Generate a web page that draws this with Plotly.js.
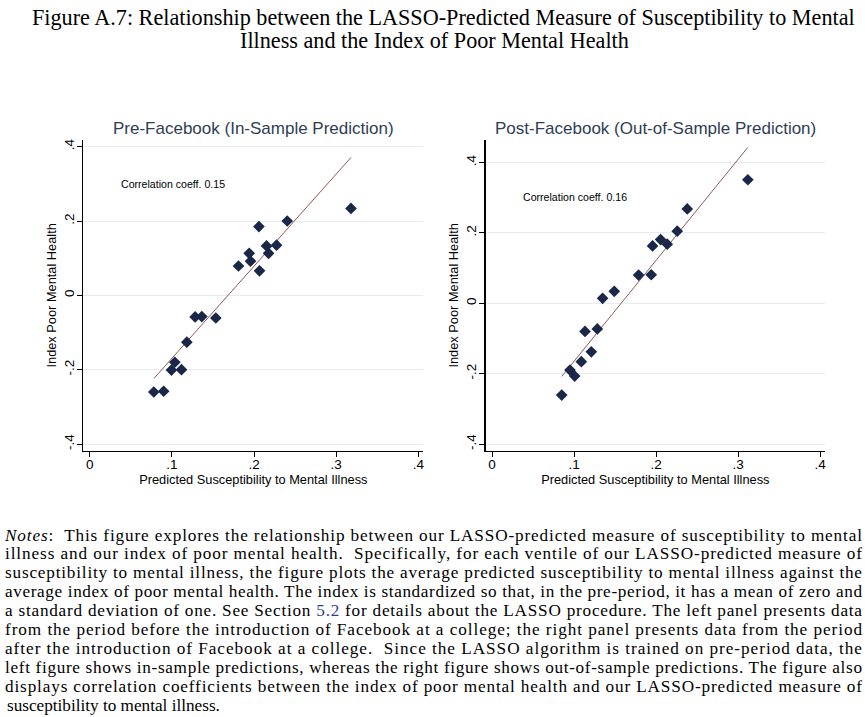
<!DOCTYPE html>
<html>
<head>
<meta charset="utf-8">
<script src="https://cdn.plot.ly/plotly-3.0.1.min.js"></script>
<style>
html,body{margin:0;padding:0;background:#fff;}
#chart{width:865px;height:717px;}
</style>
</head>
<body>
<div id="chart"></div>
<script>
// ---- Data ----
var preX = [0.078, 0.090, 0.0995, 0.1036, 0.1117, 0.1182, 0.1283, 0.1364, 0.1535, 0.1811, 0.1941, 0.1957, 0.2059, 0.2067, 0.2152, 0.2177, 0.2274, 0.2404, 0.318];
var preY = [-0.260, -0.258, -0.201, -0.180, -0.200, -0.126, -0.058, -0.057, -0.061, 0.079, 0.113, 0.092, 0.185, 0.066, 0.133, 0.113, 0.135, 0.200, 0.234];
var preFitX = [0.0784, 0.318];
var preFitY = [-0.223, 0.371];

var postX = [0.0849, 0.0950, 0.1007, 0.1088, 0.1133, 0.1210, 0.1283, 0.1348, 0.1490, 0.1787, 0.1941, 0.1957, 0.2055, 0.2136, 0.2258, 0.2380, 0.3119];
var postY = [-0.261, -0.190, -0.207, -0.166, -0.080, -0.138, -0.073, 0.014, 0.034, 0.080, 0.081, 0.163, 0.181, 0.168, 0.205, 0.268, 0.351];
var postFitX = [0.0849, 0.3119];
var postFitY = [-0.208, 0.443];

var preCorr = "Correlation coeff. 0.15";
var postCorr = "Correlation coeff. 0.16";

var xTickVals = [0, 0.1, 0.2, 0.3, 0.4];
var xTickText = ["0", ".1", ".2", ".3", ".4"];
var yTickVals = [-0.4, -0.2, 0, 0.2, 0.4];
var yTickText = ["-.4", "-.2", "0", ".2", ".4"];

var figTitle = ["Figure A.7: Relationship between the LASSO-Predicted Measure of Susceptibility to Mental",
                "Illness and the Index of Poor Mental Health"];
var panelTitles = ["Pre-Facebook (In-Sample Prediction)", "Post-Facebook (Out-of-Sample Prediction)"];
var xTitle = "Predicted Susceptibility to Mental Illness";
var yTitle = "Index Poor Mental Health";

var notes = [
 "<i>Notes</i>:  This figure explores the relationship between our LASSO-predicted measure of susceptibility to mental",
 "illness and our index of poor mental health.  Specifically, for each ventile of our LASSO-predicted measure of",
 "susceptibility to mental illness, the figure plots the average predicted susceptibility to mental illness against the",
 "average index of poor mental health. The index is standardized so that, in the pre-period, it has a mean of zero and",
 "a standard deviation of one. See Section <span style='color:#2a3f8f'>5.2</span> for details about the LASSO procedure. The left panel presents data",
 "from the period before the introduction of Facebook at a college; the right panel presents data from the period",
 "after the introduction of Facebook at a college.  Since the LASSO algorithm is trained on pre-period data, the",
 "left figure shows in-sample predictions, whereas the right figure shows out-of-sample predictions. The figure also",
 "displays correlation coefficients between the index of poor mental health and our LASSO-predicted measure of",
 "susceptibility to mental illness."
];

// ---- Styles ----
var W = 865, H = 717;
var markerColor = "#1b2748";
var lineColor = "#8c5a5e";
var titleColor = "#2f3d55";
var sans = "Liberation Sans, Arial, sans-serif";
var serif = "Liberation Serif, Times New Roman, serif";
var notesLeft = 5, notesRight = 862;

function px2x(p){ return p / W; }
function px2y(p){ return 1 - p / H; }

var traces = [
  {x: preFitX, y: preFitY, mode: "lines", line: {color: lineColor, width: 1}, xaxis: "x", yaxis: "y", hoverinfo: "skip"},
  {x: preX, y: preY, mode: "markers", marker: {symbol: "diamond", size: 9, color: markerColor}, xaxis: "x", yaxis: "y"},
  {x: postFitX, y: postFitY, mode: "lines", line: {color: lineColor, width: 1}, xaxis: "x2", yaxis: "y2", hoverinfo: "skip"},
  {x: postX, y: postY, mode: "markers", marker: {symbol: "diamond", size: 9, color: markerColor}, xaxis: "x2", yaxis: "y2"}
];

var yDom = [px2y(450.7), px2y(140)];

function xAxis(dom, anchor){
  return {
    domain: dom, range: [-0.0078, 0.406], tickvals: xTickVals, ticktext: xTickText,
    showgrid: false, zeroline: false, showline: true, linecolor: "#000", linewidth: 1.3,
    ticks: "outside", ticklen: 5, tickcolor: "#000", tickwidth: 1, ticklabelstandoff: -4,
    tickfont: {family: sans, size: 13.5, color: "#000"},
    title: {text: xTitle, font: {family: sans, size: 12.8, color: "#000"}, standoff: 2},
    anchor: anchor, fixedrange: true
  };
}
function yAxis(range, anchor){
  return {
    domain: yDom, range: range, tickvals: yTickVals, ticktext: yTickText, tickangle: -90,
    showgrid: true, gridcolor: "#e8ecee", gridwidth: 1, zeroline: false,
    showline: true, linecolor: "#000", linewidth: 1.3,
    ticks: "outside", ticklen: 5, tickcolor: "#000", tickwidth: 1, ticklabelstandoff: -2,
    tickfont: {family: sans, size: 13.5, color: "#000"},
    title: {text: yTitle, font: {family: sans, size: 12.8, color: "#000"}, standoff: 2},
    anchor: anchor, fixedrange: true
  };
}

var annotations = [];
annotations.push({xref: "paper", yref: "paper", x: px2x(444), y: px2y(17), xanchor: "center", yanchor: "middle",
  text: figTitle[0], showarrow: false, font: {family: serif, size: 22.2, color: "#000"}});
annotations.push({xref: "paper", yref: "paper", x: px2x(434), y: px2y(41), xanchor: "center", yanchor: "middle",
  text: figTitle[1], showarrow: false, font: {family: serif, size: 22.2, color: "#000"}});
annotations.push({xref: "paper", yref: "paper", x: px2x(253), y: px2y(128), xanchor: "center", yanchor: "middle",
  text: panelTitles[0], showarrow: false, font: {family: sans, size: 17, color: titleColor}});
annotations.push({xref: "paper", yref: "paper", x: px2x(655), y: px2y(128), xanchor: "center", yanchor: "middle",
  text: panelTitles[1], showarrow: false, font: {family: sans, size: 17, color: titleColor}});
annotations.push({xref: "x", yref: "y", x: 0.0357, y: 0.30, xanchor: "left", yanchor: "middle",
  text: preCorr, showarrow: false, font: {family: sans, size: 10.6, color: "#000"}});
annotations.push({xref: "x2", yref: "y2", x: 0.0357, y: 0.301, xanchor: "left", yanchor: "middle",
  text: postCorr, showarrow: false, font: {family: sans, size: 10.6, color: "#000"}});
var notesStart = annotations.length;
for (var i = 0; i < notes.length; i++){
  annotations.push({xref: "paper", yref: "paper", x: px2x(notesLeft), y: px2y(535 + i * 18.95), xanchor: "left", yanchor: "middle",
    text: notes[i], showarrow: false, font: {family: serif, size: 17.2, color: "#000"}});
}

var layout = {
  width: W, height: H,
  margin: {l: 0, r: 0, t: 0, b: 0},
  paper_bgcolor: "#fff", plot_bgcolor: "#fff",
  showlegend: false,
  xaxis: xAxis([px2x(83.3), px2x(423.3)], "y"),
  yaxis: yAxis([-0.418, 0.418], "x"),
  xaxis2: xAxis([px2x(485.7), px2x(825)], "y2"),
  yaxis2: yAxis([-0.419, 0.464], "x2"),
  annotations: annotations
};

Plotly.newPlot("chart", traces, layout, {displayModeBar: false, staticPlot: true}).then(function(gd){
  // justify the notes paragraph (all lines except the last) like the printed figure
  var texts = gd.querySelectorAll(".annotation-text");
  var target = notesRight - notesLeft;
  for (var k = 0; k < notes.length - 1; k++){
    var el = texts[notesStart + k];
    if (!el) continue;
    el.setAttribute("textLength", target);
    el.setAttribute("lengthAdjust", "spacing");
    el.setAttribute("x", 0);
    el.setAttribute("text-anchor", "start");
  }
});
</script>
</body>
</html>
